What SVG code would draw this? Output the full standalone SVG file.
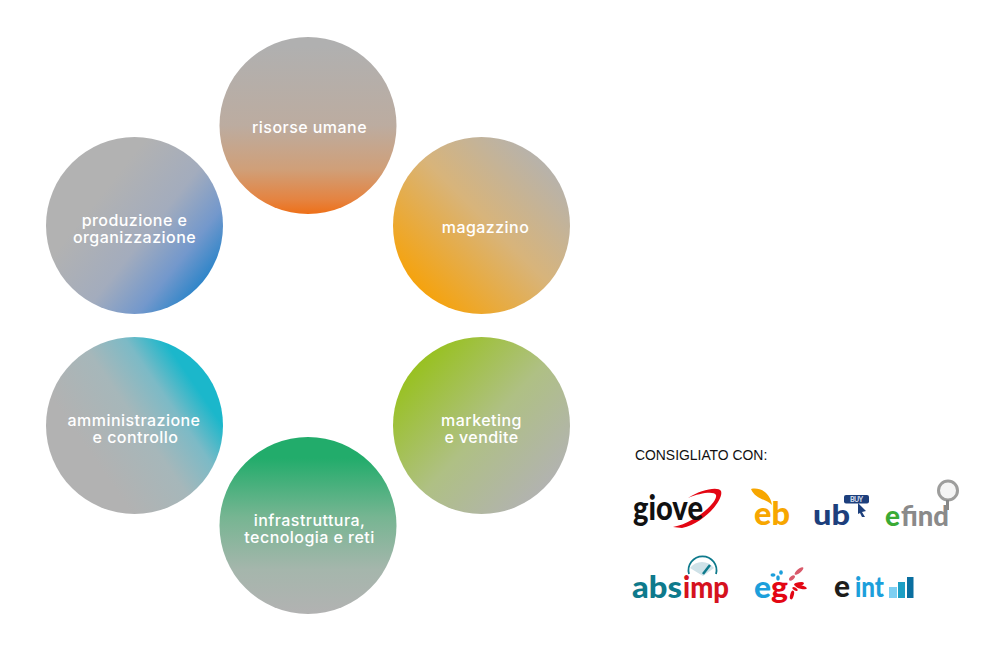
<svg xmlns="http://www.w3.org/2000/svg" width="1000" height="657" viewBox="0 0 1000 657">
<style>
.c{font-family:"Inter","Liberation Sans",sans-serif;font-size:16px;font-weight:500;letter-spacing:.45px;fill:#fff;text-anchor:middle}
.l{font-family:"Lato","Liberation Sans",sans-serif;font-weight:900;stroke-linejoin:round}
</style>
<defs>
<linearGradient id="g1" x1="0" y1="0" x2="0" y2="1"><stop offset=".05" stop-color="#b0b0b0"/><stop offset=".5" stop-color="#bcaca0"/><stop offset=".75" stop-color="#d09f78"/><stop offset=".92" stop-color="#e58340"/><stop offset="1" stop-color="#ee7018"/></linearGradient>
<linearGradient id="g2" gradientUnits="userSpaceOnUse" x1="553" y1="155" x2="420" y2="288"><stop offset="0" stop-color="#b2b2b2"/><stop offset=".5" stop-color="#d8b47a"/><stop offset="1" stop-color="#f5a30f"/></linearGradient>
<linearGradient id="g3" gradientUnits="userSpaceOnUse" x1="418" y1="368" x2="548" y2="490"><stop offset="0" stop-color="#99c124"/><stop offset=".5" stop-color="#afc084"/><stop offset="1" stop-color="#b2b2b2"/></linearGradient>
<linearGradient id="g4" x1="0" y1="0" x2="0" y2="1"><stop offset=".12" stop-color="#22ac6b"/><stop offset=".45" stop-color="#76b592"/><stop offset=".75" stop-color="#a5b6ac"/><stop offset="1" stop-color="#b2b2b2"/></linearGradient>
<linearGradient id="g5" gradientUnits="userSpaceOnUse" x1="92" y1="456" x2="195" y2="385"><stop offset="0" stop-color="#b2b2b2"/><stop offset=".45" stop-color="#a6b7ba"/><stop offset=".75" stop-color="#7cbac6"/><stop offset="1" stop-color="#1bb7cb"/></linearGradient>
<linearGradient id="g6" gradientUnits="userSpaceOnUse" x1="100" y1="196" x2="212" y2="285"><stop offset="0" stop-color="#b2b2b2"/><stop offset=".42" stop-color="#a3acbd"/><stop offset=".72" stop-color="#7398cc"/><stop offset="1" stop-color="#1c80c8"/></linearGradient>
</defs>
<rect width="1000" height="657" fill="#fff"/>
<g id="connectors"/>
<g id="n-risorse"><circle cx="308" cy="125.500" r="88.500" fill="url(#g1)"/><text class="c" x="309.500" y="132.500">risorse umane</text></g>
<g id="n-magazzino"><circle cx="481.500" cy="225.500" r="88.500" fill="url(#g2)"/><text class="c" x="485.500" y="232.500">magazzino</text></g>
<g id="n-marketing"><circle cx="481.500" cy="425.500" r="88.500" fill="url(#g3)"/><text class="c"><tspan x="481.500" y="425.500">marketing</tspan><tspan x="481.500" y="442.500">e vendite</tspan></text></g>
<g id="n-infra"><circle cx="308" cy="525.500" r="88.500" fill="url(#g4)"/><text class="c"><tspan x="309.500" y="525.500">infrastruttura,</tspan><tspan x="309.500" y="542.500">tecnologia e reti</tspan></text></g>
<g id="n-amm"><circle cx="134.500" cy="425.500" r="88.500" fill="url(#g5)"/><text class="c"><tspan x="134" y="425.500">amministrazione</tspan><tspan x="135.500" y="442.500">e controllo</tspan></text></g>
<g id="n-prod"><circle cx="134.500" cy="225.500" r="88.500" fill="url(#g6)"/><text class="c"><tspan x="134.500" y="225.500">produzione e</tspan><tspan x="134.500" y="242.500">organizzazione</tspan></text></g>
<text x="635" y="460" font-family="'Liberation Sans',sans-serif" font-size="13.900" fill="#111">CONSIGLIATO CON:</text>
<g id="logo-giove"><path d="M688 498C700 490 718 486 721 491C724 499 705 523 682 528L673 527C695 523 718 502 716 495C714 491 700 493 688 498Z" fill="#e30613"/><text class="l" x="633" y="520" font-size="34" textLength="70" lengthAdjust="spacingAndGlyphs" fill="#111">giove</text></g>
<g id="logo-eb"><path d="M751 489C760 487 770 492 772 505C766 499 755 499 751 489Z" fill="#f7a600"/><text class="l" x="754" y="525" font-size="32" textLength="36" lengthAdjust="spacingAndGlyphs" fill="#f7a600">eb</text></g>
<g id="logo-ub"><rect x="844" y="495" width="25" height="8.500" rx="2" fill="#1d3f7c"/><text class="l" x="850" y="502" font-size="7" textLength="13" fill="#cfd8e8">BUY</text><path d="M858 503L866 511L862 512L865 517L862 517L860 513L858 514Z" fill="#1d3f7c"/><text class="l" x="813" y="525" font-size="29" textLength="37" lengthAdjust="spacingAndGlyphs" fill="#1d3f7c">ub</text></g>
<g id="logo-efind"><circle cx="948" cy="490.500" r="9.500" fill="#f4f4f4" stroke="#9d9d9c" stroke-width="3"/><path d="M947.500 500V510" stroke="#878787" stroke-width="3"/><text class="l" x="885" y="526" font-size="28" textLength="15" lengthAdjust="spacingAndGlyphs" fill="#3aaa35">e</text><text class="l" x="901" y="526" font-size="28" textLength="48" lengthAdjust="spacingAndGlyphs" fill="#8a8a8a">find</text></g>
<g id="logo-absimp"><path d="M703 576L690 568A15 15 0 0 1 714 568Z" fill="#cfe2e8"/><path d="M689 574A14 14 0 1 1 716 574" fill="none" stroke="#0e7a8c" stroke-width="1.800"/><path d="M703 574L710 565" stroke="#0e7a8c" stroke-width="2.500"/><text class="l" x="632" y="598" font-size="30" textLength="50" lengthAdjust="spacingAndGlyphs" fill="#0e7a8c">abs</text><text class="l" x="683" y="598" font-size="30" textLength="46" lengthAdjust="spacingAndGlyphs" fill="#d5121e">imp</text></g>
<g id="logo-eg"><g fill="#1c9fdb"><ellipse cx="773" cy="575" rx="2.500" ry="1.800"/><ellipse cx="778" cy="578" rx="1.800" ry="2.800"/><ellipse cx="781" cy="572.500" rx="1.800" ry="2.300"/></g><g fill="#d9596a"><ellipse cx="799" cy="571" rx="5.500" ry="2" transform="rotate(-40 799 571)"/><ellipse cx="792" cy="578" rx="3.500" ry="1.800" transform="rotate(-40 792 578)"/></g><g fill="#e30613"><ellipse cx="799" cy="584" rx="5" ry="1.800" transform="rotate(-10 799 584)"/><ellipse cx="801" cy="587" rx="6" ry="1.800" transform="rotate(15 801 587)"/><ellipse cx="792" cy="595" rx="1.800" ry="4.500" transform="rotate(15 792 595)"/><ellipse cx="795" cy="589" rx="3" ry="1.500" transform="rotate(30 795 589)"/></g><text class="l" x="754" y="598" font-size="31" textLength="17" lengthAdjust="spacingAndGlyphs" fill="#1c9fdb">e</text><text class="l" x="771" y="598" font-size="31" textLength="17" lengthAdjust="spacingAndGlyphs" fill="#e30613">g</text></g>
<g id="logo-eint"><text class="l" x="834" y="597" font-size="30" textLength="16" lengthAdjust="spacingAndGlyphs" fill="#1d1d1b">e</text><text class="l" x="855" y="597" font-size="28" textLength="29" lengthAdjust="spacingAndGlyphs" fill="#1c9fdb">int</text><rect x="889" y="587" width="8" height="11" fill="#7dcff2"/><rect x="898" y="582" width="7" height="16" fill="#1c9fc4"/><rect x="907" y="577" width="6.500" height="21" fill="#0a6fa0"/></g>
</svg>
